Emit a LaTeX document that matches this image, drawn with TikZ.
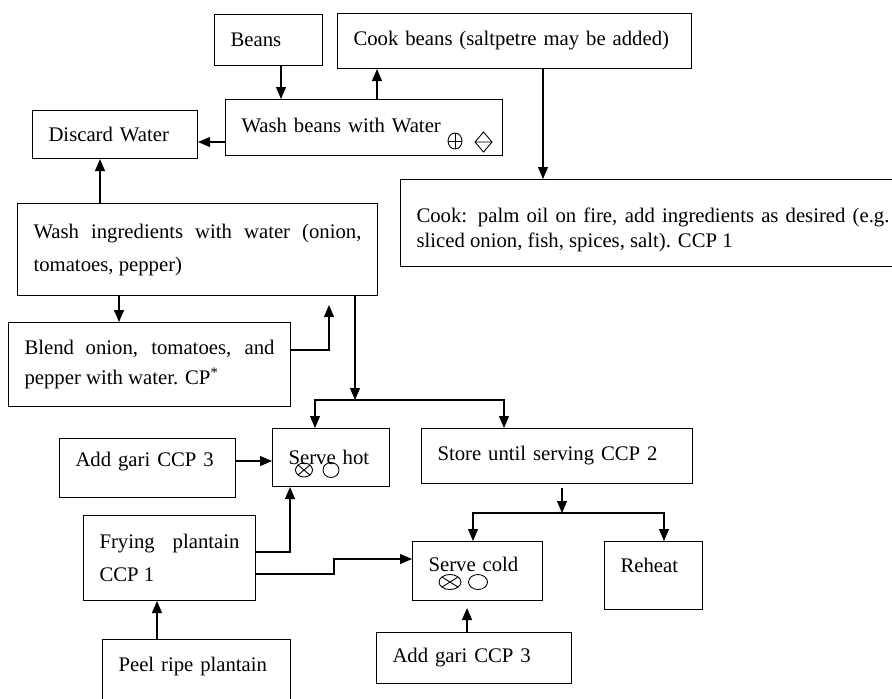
\documentclass[tikz,border=0pt]{standalone}
\usepackage{fontspec}
\setmainfont{Liberation Serif}
\usetikzlibrary{arrows.meta,positioning,calc}

\begin{document}
\begin{tikzpicture}[x=0.02cm, y=-0.02cm,
    box/.style={draw, line width=0.6pt, anchor=north west, inner xsep=0.32cm, inner ysep=0pt, align=left, font=\fontsize{11.8}{18.8}\selectfont},
    arr/.style={line width=0.6pt, -{Triangle[length=0.24cm,width=0.2cm]}},
    sym/.style={line width=0.5pt}]
    \useasboundingbox (0,0) rectangle (892,698);

    % Beans branch
    \node[box, text width=1.52cm, minimum height=1.02cm] (beans) at (214,14) {Beans};
    \node[box, text width=6.44cm, minimum height=1.1cm] (cookbeans) at (337,13) {Cook beans (saltpetre may be added)};
    \node[box, text width=4.9cm, minimum height=1.12cm, text depth=0.1cm] (washbeans) at (225,99) {Wash beans with Water};
    \node[box, text width=2.66cm, minimum height=0.96cm] (discard) at (32,110) {Discard Water};
    \node[box, text width=9.46cm, minimum height=1.74cm, align=justify, font=\fontsize{11.8}{14.2}\selectfont] (cookpalm) at (400,179)
        {\rule{0pt}{0.57cm}Cook: palm oil on fire, add ingredients as desired (e.g.\linebreak sliced onion, fish, spices, salt). CCP 1};

    % Sauce ingredients
    \node[box, text width=6.56cm, minimum height=1.84cm, align=justify] (washingr) at (17,203)
        {Wash ingredients with water (onion,\linebreak tomatoes, pepper)};
    \node[box, text width=5.0cm, minimum height=1.68cm, align=justify, font=\fontsize{11.8}{17.6}\selectfont] (blend) at (8,322)
        {Blend onion, tomatoes, and\linebreak pepper with water. CP\textsuperscript{*}};

    % Serving
    \node[box, text width=1.7cm, minimum height=1.16cm] (servehot) at (272,428) {Serve hot};
    \node[box, text width=4.78cm, minimum height=1.1cm] (store) at (421,428) {Store until serving CCP 2};
    \node[box, text width=2.88cm, minimum height=1.18cm, text depth=0.35cm] (garihot) at (59,438) {Add gari CCP 3};
    \node[box, text width=2.8cm, minimum height=1.7cm, align=justify] (frying) at (83,515) {Frying plantain\linebreak CCP 1};
    \node[box, text width=1.96cm, minimum height=1.18cm, text depth=0.27cm] (servecold) at (412,541) {Serve cold};
    \node[box, text width=1.32cm, minimum height=1.36cm, text depth=0.4cm] (reheat) at (604,541) {Reheat};
    \node[box, text width=3.26cm, minimum height=1.02cm] (garicold) at (376,632) {Add gari CCP 3};
    \node[box, text width=3.12cm, minimum height=1.28cm, text depth=0.29cm] (peel) at (102,639) {Peel ripe plantain};

    % Hazard symbols
    \draw[sym] (455,141) ellipse [x radius=0.14cm, y radius=0.16cm];
    \draw[sym] (448,141) -- (462,141) (455,133) -- (455,149);
    \draw[sym] (475,142) -- (483.5,132) -- (492,142) -- (483.5,152) -- cycle (475,142) -- (492,142);
    \draw[sym] (304,470) ellipse [x radius=0.17cm, y radius=0.14cm];
    \draw[sym] (298,465) -- (310,475) (298,475) -- (310,465);
    \draw[sym] (331,470) ellipse [x radius=0.16cm, y radius=0.15cm];
    \draw[sym] (450,582) ellipse [x radius=0.22cm, y radius=0.15cm];
    \draw[sym] (442,577) -- (458,587) (442,587) -- (458,577);
    \draw[sym] (478,582) ellipse [x radius=0.19cm, y radius=0.15cm];

    % Beans arrows
    \draw[arr] (beans.south -| 281,0) -- (washbeans.north -| 281,0);
    \draw[arr] (washbeans.north -| 377,0) -- (cookbeans.south -| 377,0);
    \draw[arr] (washbeans.west |- 0,142) -- (discard.east |- 0,142);
    \draw[arr] (cookbeans.south -| 543,0) -- (cookpalm.north -| 543,0);

    % Sauce arrows
    \draw[arr] (washingr.north -| 100,0) -- (discard.south -| 100,0);
    \draw[arr] (washingr.south -| 119,0) -- (blend.north -| 119,0);
    \draw[arr, shorten >=0.18cm] (blend.east |- 0,350) -| (washingr.south -| 329,0);
    \coordinate (split1) at (355,400);
    \draw[arr] (washingr.south -| split1) -- (split1);
    \draw[arr] (split1) -| (servehot.north -| 315,0);
    \draw[arr] (split1) -| (store.north -| 504,0);

    % Serving arrows
    \draw[arr] (garihot.east |- 0,461) -- (servehot.west |- 0,461);
    \draw[arr] (frying.east |- 0,552) -| (servehot.south -| 290,0);
    \draw[arr] (frying.east |- 0,574) -- (334,574) |- (servecold.west |- 0,559);
    \coordinate (split2) at (562,513);
    \draw[arr, shorten <=0.08cm] (store.south -| split2) -- (split2);
    \draw[arr] (split2) -| (servecold.north -| 473,0);
    \draw[arr] (split2) -| (reheat.north -| 664,0);
    \draw[arr, shorten >=0.14cm] (garicold.north -| 467,0) -- (servecold.south -| 467,0);
    \draw[arr] (peel.north -| 157,0) -- (frying.south -| 157,0);
\end{tikzpicture}
\end{document}
